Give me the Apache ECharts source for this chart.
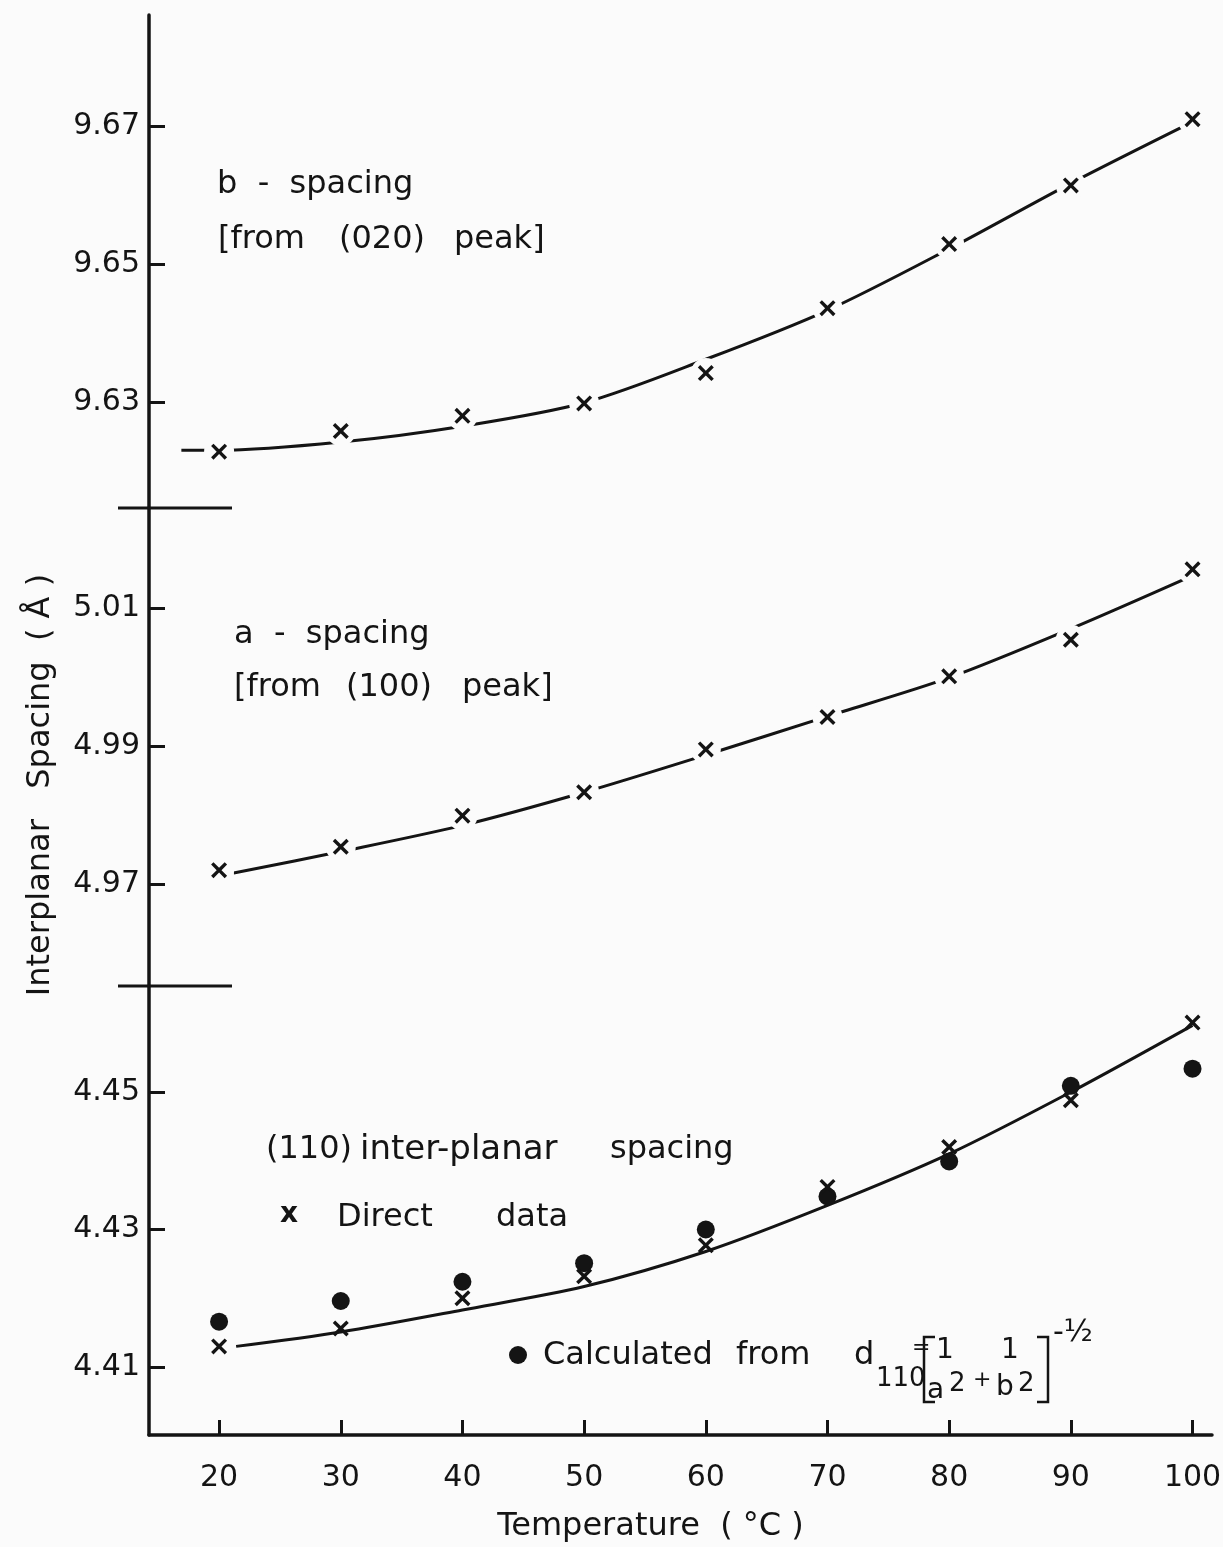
<!DOCTYPE html>
<html>
<head>
<meta charset="utf-8">
<script src="https://cdn.jsdelivr.net/npm/echarts@6.0.0/dist/echarts.min.js"></script>
<style>
  html, body { margin: 0; padding: 0; background: #fbfbfb; }
  #chart { width: 1223px; height: 1547px; }
</style>
</head>
<body>
<div id="chart"></div>
<script>
// temperatures (°C)
const temps = [20, 30, 40, 50, 60, 70, 80, 90, 100];

// b-spacing, from (020) peak
const bSpacing = [9.6228, 9.6258, 9.6280, 9.6298, 9.6342, 9.6436, 9.6529, 9.6614, 9.6710];
// a-spacing, from (100) peak
const aSpacing = [4.9720, 4.9754, 4.9799, 4.9833, 4.9895, 4.9942, 5.0001, 5.0054, 5.0156];
// (110) spacing, direct data (x) and calculated (dots)
const d110Direct = [4.4130, 4.4156, 4.4200, 4.4232, 4.4277, 4.4362, 4.4420, 4.4488, 4.4601];
const d110Calc = [4.4166, 4.4196, 4.4224, 4.4251, 4.4300, 4.4348, 4.4399, 4.4509, 4.4534];

// hand drawn fit curves
const bFitT = [16.9, 20, 30, 40, 50, 60, 70, 80, 90, 100];
const bFit = [9.6230, 9.6230, 9.6242, 9.6265, 9.6299, 9.6362, 9.6433, 9.6522, 9.6617, 9.6706];
const aFitT = [21.2, 30, 40, 50, 60, 70, 80, 90, 100];
const aFit = [4.9716, 4.9747, 4.9785, 4.9833, 4.9887, 4.9943, 4.9999, 5.0070, 5.0147];
const dFitT = [21.4, 30, 40, 50, 60, 70, 80, 90, 100];
const dFit = [4.4130, 4.4151, 4.4183, 4.4217, 4.4268, 4.4335, 4.4410, 4.4500, 4.4597];

// tick labels
const xTicks = [20, 30, 40, 50, 60, 70, 80, 90, 100];
const bTicks = [9.63, 9.65, 9.67];
const aTicks = [4.97, 4.99, 5.01];
const dTicks = [4.41, 4.43, 4.45];

const INK = '#141414';
const BG = '#fbfbfb';
const FONT = '"DejaVu Sans", sans-serif';

const crossPath = 'path://M0,1.5 L1.5,0 L5,3.5 L8.5,0 L10,1.5 L6.5,5 L10,8.5 L8.5,10 L5,6.5 L1.5,10 L0,8.5 L3.5,5 Z';

let zip = (xs, ys) => xs.map((x, i) => [x, ys[i]]);

let makeY = (gridIndex, min, max, ticks, extra) => Object.assign({
  type: 'value',
  gridIndex: gridIndex,
  min: min,
  max: max,
  splitLine: { show: false },
  axisLine: { show: true, lineStyle: { color: INK, width: 3.5 } },
  axisTick: { show: true, inside: true, length: 16, lineStyle: { color: INK, width: 3 }, customValues: ticks },
  axisLabel: {
    show: true, customValues: ticks, margin: 9,
    color: INK, fontFamily: FONT, fontSize: 30,
    formatter: (v) => v.toFixed(2)
  }
}, extra || {});

let makeX = (gridIndex, shown) => ({
  type: 'value',
  gridIndex: gridIndex,
  min: 14.24,
  max: 101.6,
  show: shown,
  splitLine: { show: false },
  axisLine: { show: true, onZero: false, lineStyle: { color: INK, width: 3.5 } },
  axisTick: { show: true, inside: true, length: 15, lineStyle: { color: INK, width: 3 }, customValues: xTicks },
  axisLabel: { show: true, customValues: xTicks, margin: 28, color: INK, fontFamily: FONT, fontSize: 30 },
  name: shown ? 'Temperature  ( °C )' : '',
  nameLocation: 'middle',
  nameGap: 76,
  nameTextStyle: { color: INK, fontFamily: FONT, fontSize: 32, padding: [0, 60, 0, 0] }
});

let fitLine = (idx, xs, ys) => ({
  type: 'line', xAxisIndex: idx, yAxisIndex: idx,
  data: zip(xs, ys), smooth: 0.3, showSymbol: false, silent: true, z: 2,
  lineStyle: { color: INK, width: 3 }
});
let halo = (idx, ys) => ({
  type: 'scatter', xAxisIndex: idx, yAxisIndex: idx,
  data: zip(temps, ys), symbol: 'circle', symbolSize: 30, silent: true, z: 3,
  itemStyle: { color: BG, opacity: 1 }
});
let crosses = (idx, ys) => ({
  type: 'scatter', xAxisIndex: idx, yAxisIndex: idx,
  data: zip(temps, ys), symbol: crossPath, symbolSize: 16, z: 5,
  itemStyle: { color: INK, opacity: 1 }
});

let txt = (x, y, text, size, extra) => ({
  type: 'text', x: x, y: y, silent: true,
  style: Object.assign({
    text: text, fill: INK, fontFamily: FONT, fontSize: size || 32, verticalAlign: 'middle'
  }, extra || {})
});
let bracket = (pts) => ({
  type: 'polyline', silent: true, shape: { points: pts },
  style: { stroke: INK, lineWidth: 2.5, fill: null }
});

const option = {
  backgroundColor: BG,
  animation: false,
  grid: [
    { left: 149, right: 11, top: 15, height: 493, outerBoundsMode: 'none', containLabel: false },
    { left: 149, right: 11, top: 508, height: 478, outerBoundsMode: 'none', containLabel: false },
    { left: 149, right: 11, top: 986, height: 449, outerBoundsMode: 'none', containLabel: false }
  ],
  xAxis: [makeX(0, false), makeX(1, false), makeX(2, true)],
  yAxis: [
    makeY(0, 9.61464, 9.6861, bTicks),
    makeY(1, 4.95522, 5.02449, aTicks, {
      name: 'Interplanar   Spacing  ( Å )',
      nameLocation: 'middle',
      nameGap: 92,
      nameTextStyle: { color: INK, fontFamily: FONT, fontSize: 32, padding: [0, 76, 0, 0] }
    }),
    makeY(2, 4.40011, 4.46542, dTicks)
  ],
  series: [
    fitLine(0, bFitT, bFit),
    halo(0, bSpacing),
    crosses(0, bSpacing),
    fitLine(1, aFitT, aFit),
    halo(1, aSpacing),
    crosses(1, aSpacing),
    fitLine(2, dFitT, dFit),
    {
      type: 'scatter', xAxisIndex: 2, yAxisIndex: 2,
      data: zip(temps, d110Calc), symbol: 'circle', symbolSize: 18, z: 4,
      itemStyle: { color: INK, opacity: 1 }
    },
    crosses(2, d110Direct)
  ],
  graphic: [
    // axis break marks
    { type: 'line', silent: true, shape: { x1: 118, y1: 508, x2: 232, y2: 508 }, style: { stroke: INK, lineWidth: 3 } },
    { type: 'line', silent: true, shape: { x1: 118, y1: 986, x2: 232, y2: 986 }, style: { stroke: INK, lineWidth: 3 } },

    txt(217, 185, 'b  -  spacing'),
    txt(218, 240, '[from'),
    txt(339, 240, '(020)'),
    txt(454, 240, 'peak]'),

    txt(234, 635, 'a  -  spacing'),
    txt(234, 688, '[from'),
    txt(346, 688, '(100)'),
    txt(462, 688, 'peak]'),

    txt(266, 1150, '(110)'),
    txt(360, 1150, 'inter-planar', 34),
    txt(610, 1150, 'spacing'),
    txt(280, 1215, 'x', 28, { fontWeight: 'bold' }),
    txt(337, 1218, 'Direct'),
    txt(496, 1218, 'data'),

    { type: 'circle', silent: true, shape: { cx: 518, cy: 1355, r: 9 }, style: { fill: INK } },
    txt(543, 1356, 'Calculated'),
    txt(736, 1356, 'from'),
    txt(854, 1356, 'd', 32),
    txt(876, 1379, '110', 26),
    txt(912, 1348, '=', 22),
    bracket([[935, 1337], [924, 1337], [924, 1402], [935, 1402]]),
    txt(936, 1351, '1', 28),
    txt(927, 1391, 'a', 28),
    txt(949, 1384, '2', 26),
    txt(973, 1380, '+', 22),
    txt(1001, 1351, '1', 28),
    txt(996, 1388, 'b', 28),
    txt(1018, 1384, '2', 26),
    bracket([[1037, 1337], [1048, 1337], [1048, 1402], [1037, 1402]]),
    txt(1053, 1333, '-½', 30)
  ]
};

let chart = echarts.init(document.getElementById('chart'), null, { renderer: 'canvas' });
chart.setOption(option);
</script>
</body>
</html>
